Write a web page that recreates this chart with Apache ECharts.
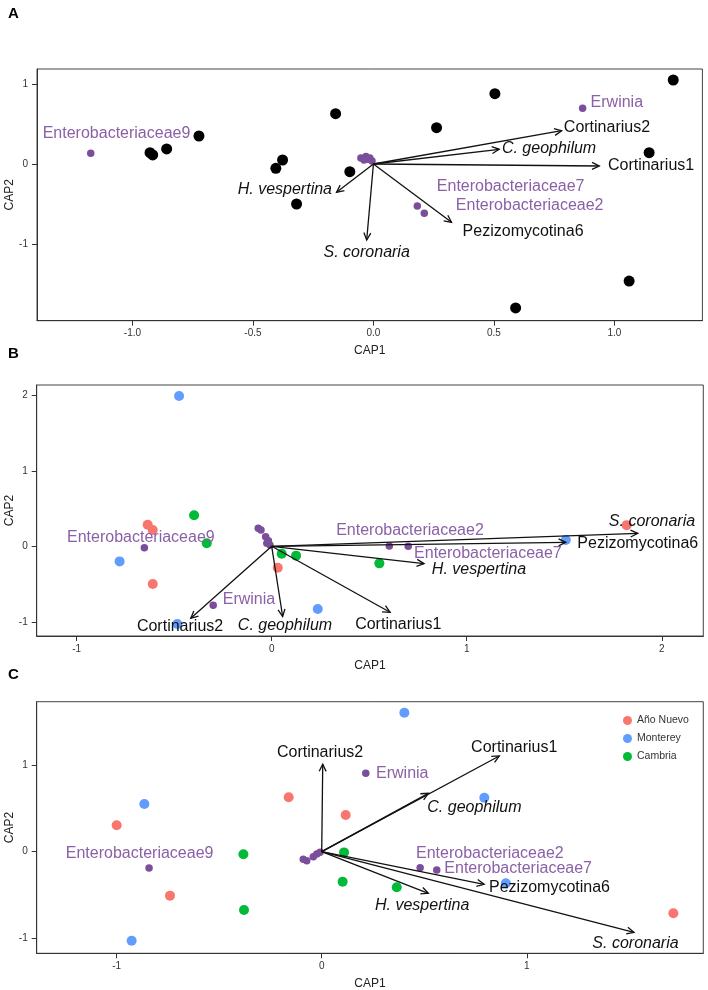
<!DOCTYPE html>
<html>
<head>
<meta charset="utf-8">
<script src="https://cdn.jsdelivr.net/npm/echarts@6/dist/echarts.min.js"></script>
<style>html,body{margin:0;padding:0;background:#fff}#c{width:708px;height:990px}</style>
</head>
<body>
<div id="c"></div>
<script>
// ---------- Panel A ----------
const xTicksA = [-1.0, -0.5, 0.0, 0.5, 1.0];
const xLabelsA = ['-1.0', '-0.5', '0.0', '0.5', '1.0'];
const yTicksA = [-1, 0, 1];
const yLabelsA = ['-1', '0', '1'];
const samplesA = [[-0.927,0.141],[-0.916,0.113],[-0.858,0.188],[-0.724,0.35],[-0.157,0.629],[-0.405,-0.054],[-0.377,0.05],[-0.319,-0.5],[-0.098,-0.096],[0.504,0.879],[0.262,0.454],[1.244,1.05],[1.144,0.141],[1.061,-1.463],[0.59,-1.8]];
const taxaPointsA = [[-1.173,0.134],[0.868,0.696],[0.182,-0.525],[0.211,-0.616],[-0.052,0.075],[-0.031,0.094],[-0.015,0.075],[-0.039,0.05],[-0.006,0.038],[-0.022,0.06]];
const taxaNamesA = ['Enterobacteriaceae9','Erwinia','Enterobacteriaceae7','Enterobacteriaceae2'];
const taxaLabelXYA = [[-1.066,0.375],[0.901,0.766],[0.263,-0.284],[0.342,-0.521]];
const taxaAlignA = ['center','left','left','left'];
const arrowNamesA = ['Cortinarius2','C. geophilum','Cortinarius1','Pezizomycotina6','S. coronaria','H. vespertina'];
const arrowTipsA = [[0.781,0.416],[0.522,0.184],[0.937,-0.025],[0.324,-0.729],[-0.028,-0.95],[-0.153,-0.354]];
const arrowLabelXYA = [[0.790,0.45],[0.533,0.1875],[0.973,-0.025],[0.37,-0.846],[-0.028,-1.11],[-0.172,-0.325]];
const arrowAlignA = ['left','left','left','left','center','right'];

// ---------- Panel B ----------
const xTicksB = [-1, 0, 1, 2];
const xLabelsB = ['-1', '0', '1', '2'];
const yTicksB = [-1, 0, 1, 2];
const yLabelsB = ['-1', '0', '1', '2'];
const anoNuevoB = [[-0.636,0.286],[-0.61,0.216],[-0.61,-0.5],[0.031,-0.283],[1.82,0.28]];
const montereyB = [[-0.475,1.99],[-0.78,-0.2],[-0.484,-1.03],[0.236,-0.83],[1.508,0.083]];
const cambriaB = [[-0.398,0.41],[-0.333,0.04],[0.051,-0.098],[0.125,-0.124],[0.552,-0.226]];
const taxaPointsB = [[-0.653,-0.018],[-0.30,-0.78],[0.603,0.004],[0.70,0.0],[-0.069,0.238],[-0.055,0.216],[-0.031,0.127],[-0.017,0.074],[-0.025,0.040],[-0.009,0.017]];
const taxaNamesB = ['Enterobacteriaceae9','Erwinia','Enterobacteriaceae2','Enterobacteriaceae7'];
const taxaLabelXYB = [[-0.671,0.114],[-0.251,-0.711],[0.709,0.203],[0.73,-0.093]];
const taxaAlignB = ['center','left','center','left'];
const arrowNamesB = ['S. coronaria','Pezizomycotina6','H. vespertina','Cortinarius1','C. geophilum','Cortinarius2'];
const arrowTipsB = [[1.877,0.172],[1.508,0.053],[0.781,-0.23],[0.607,-0.874],[0.056,-0.93],[-0.415,-0.954]];
const arrowLabelXYB = [[2.171,0.326],[1.567,0.03],[0.821,-0.314],[0.649,-1.042],[0.068,-1.052],[-0.47,-1.065]];
const arrowAlignB = ['right','left','left','center','center','center'];

// ---------- Panel C ----------
const xTicksC = [-1, 0, 1];
const xLabelsC = ['-1', '0', '1'];
const yTicksC = [-1, 0, 1];
const yLabelsC = ['-1', '0', '1'];
const anoNuevoC = [[-1.0,0.304],[-0.74,-0.507],[-0.161,0.627],[0.117,0.423],[1.715,-0.711]];
const montereyC = [[-0.865,0.55],[-0.927,-1.027],[0.403,1.603],[0.793,0.623],[0.898,-0.365]];
const cambriaC = [[-0.382,-0.03],[-0.379,-0.673],[0.109,-0.008],[0.102,-0.346],[0.366,-0.411]];
const taxaPointsC = [[-0.842,-0.188],[0.215,0.904],[0.48,-0.184],[0.561,-0.211],[-0.09,-0.088],[-0.073,-0.104],[-0.041,-0.058],[-0.024,-0.027],[-0.008,-0.007]];
const taxaNamesC = ['Enterobacteriaceae9','Erwinia','Enterobacteriaceae2','Enterobacteriaceae7'];
const taxaLabelXYC = [[-0.888,-0.018],[0.265,0.896],[0.46,-0.027],[0.598,-0.2]];
const taxaAlignC = ['center','left','left','left'];
const arrowNamesC = ['Cortinarius2','Cortinarius1','C. geophilum','Pezizomycotina6','H. vespertina','S. coronaria'];
const arrowTipsC = [[0.005,1.01],[0.866,1.104],[0.52,0.673],[0.792,-0.376],[0.52,-0.48],[1.523,-0.93]];
const arrowLabelXYC = [[-0.008,1.142],[0.939,1.204],[0.515,0.512],[0.816,-0.415],[0.26,-0.623],[1.32,-1.057]];
const arrowAlignC = ['center','center','left','left','left','left'];

const siteNames = ['Año Nuevo','Monterey','Cambria'];

// ---------- styles ----------
const FONT = '"Liberation Sans", Arial, Helvetica, sans-serif';
const COL = {ano:'#F8766D', mon:'#619CFF', cam:'#00BA38', purple:'#7B4E9B', purpleText:'#8A60A6'};

function labelFor(ticks, labels) {
  return v => { const i = ticks.findIndex(t => Math.abs(t - v) < 1e-9); return i >= 0 ? labels[i] : ''; };
}
function xAxis(g, min, max, ticks, labels) {
  return {type:'value', gridIndex:g, min, max, name:'CAP1', nameLocation:'middle', nameGap:24,
    nameTextStyle:{fontSize:12, color:'#222', fontFamily:FONT},
    axisLine:{show:true, onZero:false, lineStyle:{color:'#333', width:1}},
    axisTick:{show:true, length:5, customValues:ticks, lineStyle:{color:'#333'}},
    axisLabel:{customValues:ticks, formatter:labelFor(ticks, labels), fontSize:10, color:'#333', margin:8, fontFamily:FONT},
    splitLine:{show:false}};
}
function yAxis(g, min, max, ticks, labels) {
  return {type:'value', gridIndex:g, min, max,
    axisLine:{show:true, onZero:false, lineStyle:{color:'#333', width:1}},
    axisTick:{show:true, length:5, customValues:ticks, lineStyle:{color:'#333'}},
    axisLabel:{customValues:ticks, formatter:labelFor(ticks, labels), fontSize:10, color:'#333', margin:9, fontFamily:FONT},
    splitLine:{show:false}};
}
function scatter(g, name, data, color, size, z) {
  return {type:'scatter', name, xAxisIndex:g, yAxisIndex:g, data, symbol:'circle', symbolSize:size,
    itemStyle:{color, opacity:1}, z: z || 2, silent:true};
}
function arrows(g, tips) {
  return {type:'custom', xAxisIndex:g, yAxisIndex:g, data:tips, z:3, silent:true, clip:false,
    encode:{x:0, y:1},
    renderItem(params, api) {
      const p0 = api.coord([0, 0]);
      const p1 = api.coord([api.value(0), api.value(1)]);
      const ang = Math.atan2(p1[1] - p0[1], p1[0] - p0[0]);
      const L = 8, a = Math.PI / 7;
      const h1 = [p1[0] - L * Math.cos(ang - a), p1[1] - L * Math.sin(ang - a)];
      const h2 = [p1[0] - L * Math.cos(ang + a), p1[1] - L * Math.sin(ang + a)];
      return {type:'group', children:[
        {type:'line', shape:{x1:p0[0], y1:p0[1], x2:p1[0], y2:p1[1]}, style:{stroke:'#111', lineWidth:1.3}},
        {type:'polyline', shape:{points:[h1, p1, h2]}, style:{stroke:'#111', lineWidth:1.3, fill:null}}
      ]};
    }};
}
function texts(g, names, xy, aligns, colorFn, italicFn) {
  const data = names.map((n, i) => [xy[i][0], xy[i][1], i]);
  return {type:'custom', xAxisIndex:g, yAxisIndex:g, data, z:4, silent:true, clip:false,
    encode:{x:0, y:1},
    renderItem(params, api) {
      const i = api.value(2);
      const p = api.coord([api.value(0), api.value(1)]);
      const n = names[i];
      return {type:'text', x:p[0], y:p[1], style:{text:n, fill:colorFn(n), align:aligns[i], verticalAlign:'middle',
        font:(italicFn(n) ? 'italic ' : '') + '16px ' + FONT}};
    }};
}
const isItalic = n => /^[A-Z]\. /.test(n);
const black = () => '#111';
const purp = () => COL.purpleText;

const grids = [
  {left:37, top:69, width:665.4, height:251.7},
  {left:36.7, top:385, width:666.6, height:251},
  {left:36.7, top:701.7, width:666.6, height:251.6}
].map(g => Object.assign(g, {show:true, borderColor:'#444', borderWidth:1, backgroundColor:'transparent',
  containLabel:false, outerBoundsMode:'none'}));

const cap2 = grids.map(g => ({type:'text', x:10, y:g.top + g.height / 2, rotation:Math.PI / 2,
  style:{text:'CAP2', font:'12px ' + FONT, fill:'#222', align:'center', verticalAlign:'middle'}}));

const option = {
  animation:false,
  backgroundColor:'#fff',
  textStyle:{fontFamily:FONT},
  grid:grids,
  xAxis:[xAxis(0,-1.396,1.365,xTicksA,xLabelsA), xAxis(1,-1.205,2.213,xTicksB,xLabelsB), xAxis(2,-1.39,1.861,xTicksC,xLabelsC)],
  yAxis:[yAxis(0,-1.959,1.1875,yTicksA,yLabelsA), yAxis(1,-1.188,2.136,yTicksB,yLabelsB), yAxis(2,-1.172,1.73,yTicksC,yLabelsC)],
  legend:{data:siteNames, orient:'vertical', left:623, top:715, padding:0, icon:'circle', itemWidth:9, itemHeight:9, itemGap:7,
    textStyle:{fontSize:10.5, color:'#333', fontFamily:FONT}, selectedMode:false},
  graphic:[
    {type:'text', left:8, top:6, style:{text:'A', font:'bold 15px ' + FONT, fill:'#000'}},
    {type:'text', left:8, top:346, style:{text:'B', font:'bold 15px ' + FONT, fill:'#000'}},
    {type:'text', left:8, top:667, style:{text:'C', font:'bold 15px ' + FONT, fill:'#000'}}
  ].concat(cap2),
  series:[
    scatter(0, 'samplesA', samplesA, '#000', 11),
    scatter(0, 'taxaA', taxaPointsA, COL.purple, 7.5),
    arrows(0, arrowTipsA),
    texts(0, arrowNamesA, arrowLabelXYA, arrowAlignA, black, isItalic),
    texts(0, taxaNamesA, taxaLabelXYA, taxaAlignA, purp, () => false),

    scatter(1, 'Año Nuevo', anoNuevoB, COL.ano, 10),
    scatter(1, 'Monterey', montereyB, COL.mon, 10),
    scatter(1, 'Cambria', cambriaB, COL.cam, 10),
    scatter(1, 'taxaB', taxaPointsB, COL.purple, 7.5),
    arrows(1, arrowTipsB),
    texts(1, arrowNamesB, arrowLabelXYB, arrowAlignB, black, isItalic),
    texts(1, taxaNamesB, taxaLabelXYB, taxaAlignB, purp, () => false),

    scatter(2, 'Año Nuevo', anoNuevoC, COL.ano, 10),
    scatter(2, 'Monterey', montereyC, COL.mon, 10),
    scatter(2, 'Cambria', cambriaC, COL.cam, 10),
    scatter(2, 'taxaC', taxaPointsC, COL.purple, 7.5),
    arrows(2, arrowTipsC),
    texts(2, arrowNamesC, arrowLabelXYC, arrowAlignC, black, isItalic),
    texts(2, taxaNamesC, taxaLabelXYC, taxaAlignC, purp, () => false)
  ]
};
const chart = echarts.init(document.getElementById('c'), null, {renderer:'canvas'});
chart.setOption(option);
</script>
</body>
</html>
